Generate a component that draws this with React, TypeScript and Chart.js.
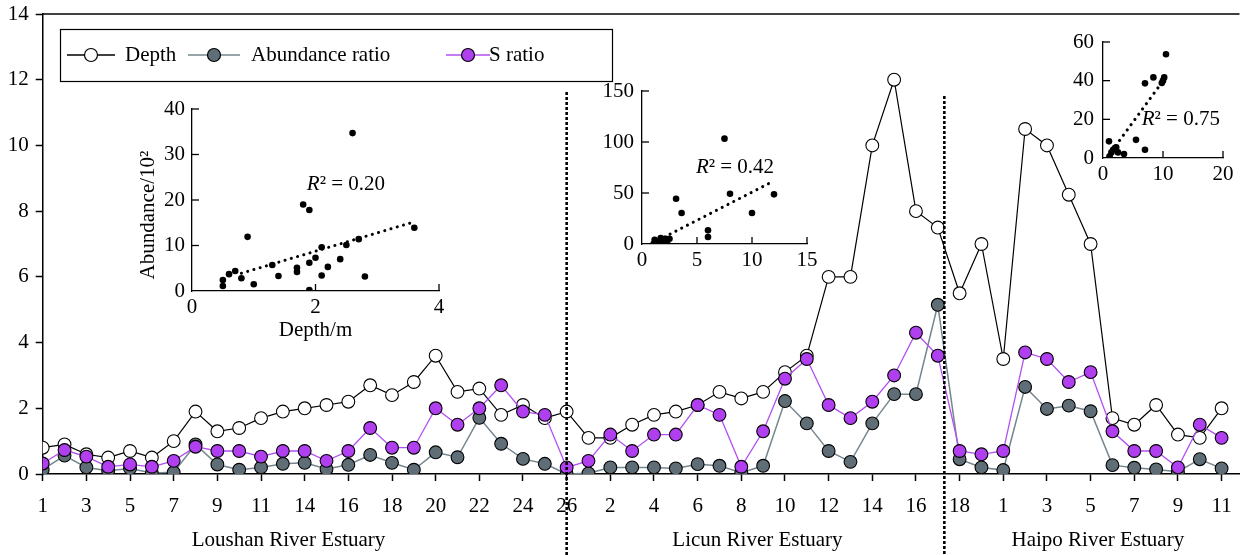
import React, { useEffect, useRef } from "react";
import { Chart, registerables } from "chart.js";

Chart.register(...registerables);

const FONT = "'Liberation Serif', 'Times New Roman', Times, serif";
const FS = 21;

// ---------- main chart data ----------
const loushanStations = ["1","2","3","4","5","6","7","8","9","10","11","12","14","15","16","17","18","19","20","21","22","23","24","25","26"];
const licunStations = ["1","2","3","4","5","6","7","8","9","10","11","12","13","14","15","16","17","18","19"];
const haipoStations = ["1","2","3","4","5","6","7","8","9","10","11"];
const estuaryNames = ["Loushan River Estuary", "Licun River Estuary", "Haipo River Estuary"];
const estuaryLabelCenters = [11.26, 32.74, 48.33];
const separatorIndices = [24, 41.3];

const depthLoushan = [0.8,0.9,0.6,0.5,0.7,0.5,1.0,1.9,1.3,1.4,1.7,1.9,2.0,2.1,2.2,2.7,2.4,2.8,3.6,2.5,2.6,1.8,2.1,1.7,1.9];
const depthLicun = [1.1,1.1,1.5,1.8,1.9,2.1,2.5,2.3,2.5,3.1,3.6,6.0,6.0,10.0,12.0,8.0,7.5,5.5,7.0];
const depthHaipo = [3.5,10.5,10.0,8.5,7.0,1.7,1.5,2.1,1.2,1.1,2.0];

const abundLoushan = [0.13,0.56,0.2,0.1,0.17,0.03,0.05,0.9,0.29,0.13,0.2,0.31,0.34,0.15,0.28,0.58,0.34,0.13,0.66,0.51,1.71,0.92,0.46,0.31,0.0];
const abundLicun = [0.02,0.2,0.2,0.2,0.17,0.3,0.25,0.04,0.25,2.22,1.54,0.7,0.37,1.54,2.43,2.43,5.15,0.45,0.2];
const abundHaipo = [0.12,2.65,1.98,2.08,1.91,0.27,0.19,0.14,0.07,0.45,0.17];

const sLoushan = [0.32,0.73,0.53,0.22,0.29,0.22,0.4,0.83,0.7,0.7,0.53,0.7,0.7,0.4,0.7,1.4,0.8,0.8,2.0,1.5,2.0,2.7,1.9,1.8,0.2];
const sLicun = [0.4,1.2,0.7,1.2,1.2,2.1,1.8,0.22,1.3,2.9,3.5,2.1,1.7,2.2,3.0,4.3,3.6,0.7,0.6];
const sHaipo = [0.7,3.7,3.5,2.8,3.1,1.3,0.7,0.7,0.2,1.5,1.1];

const seriesNames = ["Depth", "Abundance ratio", "S ratio"];

// ---------- inset data ----------
const loushanInsetDepth = [0.5,0.5,0.6,0.7,0.8,0.9,1.0,1.3,1.4,1.7,1.7,1.8,1.9,1.9,1.9,2.0,2.1,2.1,2.2,2.4,2.5,2.6,2.7,2.8,3.6];
const loushanInsetAbund = [2.4,1.1,3.7,4.4,2.8,11.9,1.5,5.7,3.3,5.1,4.2,19.0,17.8,6.2,0.2,7.3,9.6,3.4,5.3,7.0,10.1,34.7,11.4,3.2,13.9];
const loushanTrendX = [0.8, 3.6];
const loushanTrendY = [3.9, 15.2];

const licunInsetDepth = [1.06,1.15,1.5,1.7,2.0,2.15,2.3,2.5,3.1,3.6,6.0,6.0,7.5,8.0,10.0,12.0];
const licunInsetAbund = [0.3,4.2,2.5,5.9,1.5,5.2,0.0,5.2,44.4,30.4,13.4,6.9,103.3,49.3,30.4,48.7];
const licunTrendX = [1.5, 11.8];
const licunTrendY = [3.9, 60.8];

const haipoInsetDepth = [1.0,1.1,1.4,1.7,2.0,2.2,2.5,3.5,5.5,7.0,7.0,8.4,9.8,10.0,10.2,10.5];
const haipoInsetAbund = [8.6,0.9,2.9,4.3,5.1,5.5,2.9,2.1,9.4,38.6,4.3,41.7,38.8,40.0,41.7,53.7];
const haipoTrendX = [0.84, 10.2];
const haipoTrendY = [0.9, 40.7];

const COLORS = {
  depthLine: "#000000",
  depthFill: "#ffffff",
  abundLine: "#74868e",
  abundFill: "#5f6e76",
  sLine: "#b44ef2",
  sFill: "#b03ff0",
};

const stationLabels = [...loushanStations, ...licunStations, ...haipoStations];
const toPts = (arr: number[]) => arr.map((v, i) => ({ x: i, y: v }));

const mainDecor = {
  id: "mainDecor",
  afterDatasetsDraw(chart: any) {
    const { ctx, chartArea: a, scales } = chart;
    const xs = scales.x;
    ctx.save();
    // top frame line
    ctx.strokeStyle = "#000";
    ctx.lineWidth = 1.5;
    ctx.beginPath();
    ctx.moveTo(a.left, a.top);
    ctx.lineTo(a.right, a.top);
    ctx.stroke();
    // separators
    const tops = [92, 96];
    ctx.setLineDash([3, 2]);
    ctx.lineWidth = 2.6;
    separatorIndices.forEach((v, i) => {
      const px = xs.getPixelForValue(v);
      ctx.beginPath();
      ctx.moveTo(px, tops[i]);
      ctx.lineTo(px, chart.height);
      ctx.stroke();
    });
    ctx.setLineDash([]);
    // estuary names
    ctx.fillStyle = "#000";
    ctx.font = `${FS}px ${FONT}`;
    ctx.textAlign = "center";
    ctx.textBaseline = "middle";
    estuaryNames.forEach((n, i) => {
      ctx.fillText(n, xs.getPixelForValue(estuaryLabelCenters[i]), 540);
    });
    // legend
    ctx.fillStyle = "#fff";
    ctx.fillRect(60, 29, 552, 52);
    ctx.strokeStyle = "#000";
    ctx.lineWidth = 1.2;
    ctx.strokeRect(60.5, 29.5, 552, 52);
    const cy = 55;
    const items = [
      { l0: 67, l1: 115, c: 91, t: 125, line: COLORS.depthLine, fill: COLORS.depthFill },
      { l0: 188, l1: 240, c: 214, t: 251, line: COLORS.abundLine, fill: COLORS.abundFill },
      { l0: 446, l1: 490, c: 468, t: 489, line: COLORS.sLine, fill: COLORS.sFill },
    ];
    items.forEach((it, i) => {
      ctx.strokeStyle = it.line;
      ctx.lineWidth = 1.5;
      ctx.beginPath();
      ctx.moveTo(it.l0, cy);
      ctx.lineTo(it.l1, cy);
      ctx.stroke();
      ctx.beginPath();
      ctx.arc(it.c, cy, 6.5, 0, Math.PI * 2);
      ctx.fillStyle = it.fill;
      ctx.fill();
      ctx.strokeStyle = "#000";
      ctx.lineWidth = 1.2;
      ctx.stroke();
      ctx.fillStyle = "#000";
      ctx.textAlign = "left";
      ctx.fillText(seriesNames[i], it.t, cy);
    });
    ctx.restore();
  },
};

type InsetSpec = {
  xs: number[];
  ys: number[];
  tx: number[];
  ty: number[];
  xMax: number;
  xStep: number;
  yMax: number;
  yStep: number;
  yw: number;
  xh: number;
  padTop: number;
  padRight: number;
  yPad: number;
  r2: string;
  r2At: number[];
  xTitle?: string;
  yTitle?: string;
};

function insetPlugin(spec: InsetSpec) {
  return {
    id: "insetDecor",
    afterDraw(chart: any) {
      const { ctx, chartArea: a, scales } = chart;
      const x = scales.x;
      const y = scales.y;
      ctx.save();
      ctx.strokeStyle = "#000";
      ctx.lineWidth = 1.3;
      y.ticks.forEach((t: any) => {
        if (t.value === 0) return;
        const py = y.getPixelForValue(t.value);
        ctx.beginPath();
        ctx.moveTo(a.left, py);
        ctx.lineTo(a.left + 7, py);
        ctx.stroke();
      });
      x.ticks.forEach((t: any) => {
        if (t.value === 0) return;
        const px = x.getPixelForValue(t.value);
        ctx.beginPath();
        ctx.moveTo(px, a.bottom);
        ctx.lineTo(px, a.bottom - 7);
        ctx.stroke();
      });
      ctx.fillStyle = "#000";
      ctx.textBaseline = "middle";
      ctx.textAlign = "left";
      let tx = x.getPixelForValue(spec.r2At[0]);
      const ty = y.getPixelForValue(spec.r2At[1]);
      ctx.font = `italic ${FS}px ${FONT}`;
      ctx.fillText("R", tx, ty);
      tx += ctx.measureText("R").width;
      ctx.font = `${FS}px ${FONT}`;
      ctx.fillText("\u00B2 = " + spec.r2, tx, ty);
      if (spec.xTitle) {
        ctx.textAlign = "center";
        ctx.fillText(spec.xTitle, (a.left + a.right) / 2, a.bottom + 39);
      }
      if (spec.yTitle) {
        ctx.save();
        ctx.translate(a.left - 44, (a.top + a.bottom) / 2 + 15);
        ctx.rotate(-Math.PI / 2);
        ctx.textAlign = "center";
        ctx.fillText(spec.yTitle, 0, 0);
        ctx.restore();
      }
      ctx.restore();
    },
  };
}

function makeInset(canvas: HTMLCanvasElement, spec: InsetSpec) {
  const font = { family: FONT, size: FS };
  return new Chart(canvas, {
    type: "scatter",
    data: {
      datasets: [
        {
          data: spec.xs.map((v, i) => ({ x: v, y: spec.ys[i] })),
          pointRadius: 3.3,
          pointBackgroundColor: "#000",
          pointBorderWidth: 0,
          borderColor: "#000",
        },
        {
          data: spec.tx.map((v, i) => ({ x: v, y: spec.ty[i] })),
          showLine: true,
          pointRadius: 0,
          borderColor: "#000",
          borderWidth: 3,
          borderDash: [0.1, 6.4],
          borderCapStyle: "round",
        } as any,
      ],
    },
    options: {
      animation: false,
      responsive: false,
      maintainAspectRatio: false,
      events: [],
      layout: { padding: { top: spec.padTop, right: spec.padRight, left: 0, bottom: 0 } },
      plugins: { legend: { display: false }, tooltip: { enabled: false } },
      scales: {
        x: {
          type: "linear",
          min: 0,
          max: spec.xMax,
          afterFit: (s: any) => { s.height = spec.xh; s.paddingLeft = 0; s.paddingRight = 0; },
          ticks: { stepSize: spec.xStep, padding: 4, color: "#000", font, maxRotation: 0 },
          grid: { drawOnChartArea: false, drawTicks: false },
          border: { color: "#000", width: 1.3 },
        },
        y: {
          min: 0,
          max: spec.yMax,
          afterFit: (s: any) => { s.width = spec.yw; s.paddingTop = 0; s.paddingBottom = 0; },
          ticks: { stepSize: spec.yStep, padding: spec.yPad, color: "#000", font },
          grid: { drawOnChartArea: false, drawTicks: false },
          border: { color: "#000", width: 1.3 },
        },
      },
    } as any,
    plugins: [insetPlugin(spec)],
  });
}

const insetBoxes = [
  { left: 130, top: 95, width: 327, height: 248 },
  { left: 592, top: 77, width: 231, height: 207 },
  { left: 1058, top: 28, width: 181, height: 170 },
];

const insetSpecs: InsetSpec[] = [
  {
    xs: loushanInsetDepth, ys: loushanInsetAbund, tx: loushanTrendX, ty: loushanTrendY,
    xMax: 4, xStep: 2, yMax: 40, yStep: 10, yw: 62, xh: 52, padTop: 14, padRight: 18, yPad: 7,
    r2: "0.20", r2At: [1.86, 23.5], xTitle: "Depth/m", yTitle: "Abundance/10\u00B2",
  },
  {
    xs: licunInsetDepth, ys: licunInsetAbund, tx: licunTrendX, ty: licunTrendY,
    xMax: 15, xStep: 5, yMax: 150, yStep: 50, yw: 50, xh: 40, padTop: 14, padRight: 16, yPad: 8,
    r2: "0.42", r2At: [4.9, 75],
  },
  {
    xs: haipoInsetDepth, ys: haipoInsetAbund, tx: haipoTrendX, ty: haipoTrendY,
    xMax: 20, xStep: 10, yMax: 60, yStep: 20, yw: 45, xh: 40, padTop: 14, padRight: 16, yPad: 9,
    r2: "0.75", r2At: [6.45, 19.7],
  },
];

export default function App() {
  const mainRef = useRef<HTMLCanvasElement | null>(null);
  const insetRefs = [useRef<HTMLCanvasElement | null>(null), useRef<HTMLCanvasElement | null>(null), useRef<HTMLCanvasElement | null>(null)];

  useEffect(() => {
    document.body.style.margin = "0";
    const font = { family: FONT, size: FS };
    const lineDs = (data: number[], line: string, fill: string, order: number, bw: number) => ({
      data: toPts(data),
      borderColor: line,
      borderWidth: bw,
      pointRadius: 6.4,
      pointBackgroundColor: fill,
      pointBorderColor: "#000",
      pointBorderWidth: 1.1,
      tension: 0,
      order,
    });
    const main = new Chart(mainRef.current as HTMLCanvasElement, {
      type: "line",
      data: {
        datasets: [
          lineDs([...depthLoushan, ...depthLicun, ...depthHaipo], COLORS.depthLine, COLORS.depthFill, 3, 1.2),
          lineDs([...abundLoushan, ...abundLicun, ...abundHaipo], COLORS.abundLine, COLORS.abundFill, 2, 1.5),
          lineDs([...sLoushan, ...sLicun, ...sHaipo], COLORS.sLine, COLORS.sFill, 1, 1.3),
        ],
      },
      options: {
        animation: false,
        responsive: false,
        maintainAspectRatio: false,
        events: [],
        layout: { padding: { top: 14, right: 0, left: 0, bottom: 0 } },
        plugins: { legend: { display: false }, tooltip: { enabled: false } },
        scales: {
          x: {
            type: "linear",
            min: 0,
            max: 54.82,
            afterBuildTicks: (s: any) => {
              s.ticks = stationLabels.map((_, i) => i).filter((i) => i % 2 === 0).map((v) => ({ value: v }));
            },
            afterFit: (s: any) => { s.height = 81; s.paddingLeft = 0; s.paddingRight = 0; },
            ticks: {
              autoSkip: false,
              maxRotation: 0,
              padding: 13,
              color: "#000",
              font,
              callback: (v: any) => stationLabels[Number(v)] ?? "",
            },
            grid: { drawOnChartArea: false, drawTicks: true, tickLength: 7, tickColor: "#000", tickWidth: 1.5 },
            border: { color: "#000", width: 1.5 },
          },
          y: {
            min: 0,
            max: 14,
            afterFit: (s: any) => { s.width = 42.7; s.paddingTop = 0; s.paddingBottom = 0; },
            ticks: { stepSize: 2, padding: 7, color: "#000", font },
            grid: { drawOnChartArea: false, drawTicks: true, tickLength: 7, tickColor: "#000", tickWidth: 1.5 },
            border: { color: "#000", width: 1.5 },
          },
        },
      } as any,
      plugins: [mainDecor],
    });
    const insets = insetRefs.map((r, i) => makeInset(r.current as HTMLCanvasElement, insetSpecs[i]));
    return () => {
      main.destroy();
      insets.forEach((c) => c.destroy());
    };
  }, []);

  return (
    <div style={{ position: "relative", width: 1247, height: 555, background: "#fff", overflow: "hidden" }}>
      <canvas ref={mainRef} width={1247} height={555} style={{ position: "absolute", left: 0, top: 0, width: 1247, height: 555 }} />
      {insetBoxes.map((b, i) => (
        <canvas
          key={i}
          ref={insetRefs[i]}
          width={b.width}
          height={b.height}
          style={{ position: "absolute", left: b.left, top: b.top, width: b.width, height: b.height }}
        />
      ))}
    </div>
  );
}
